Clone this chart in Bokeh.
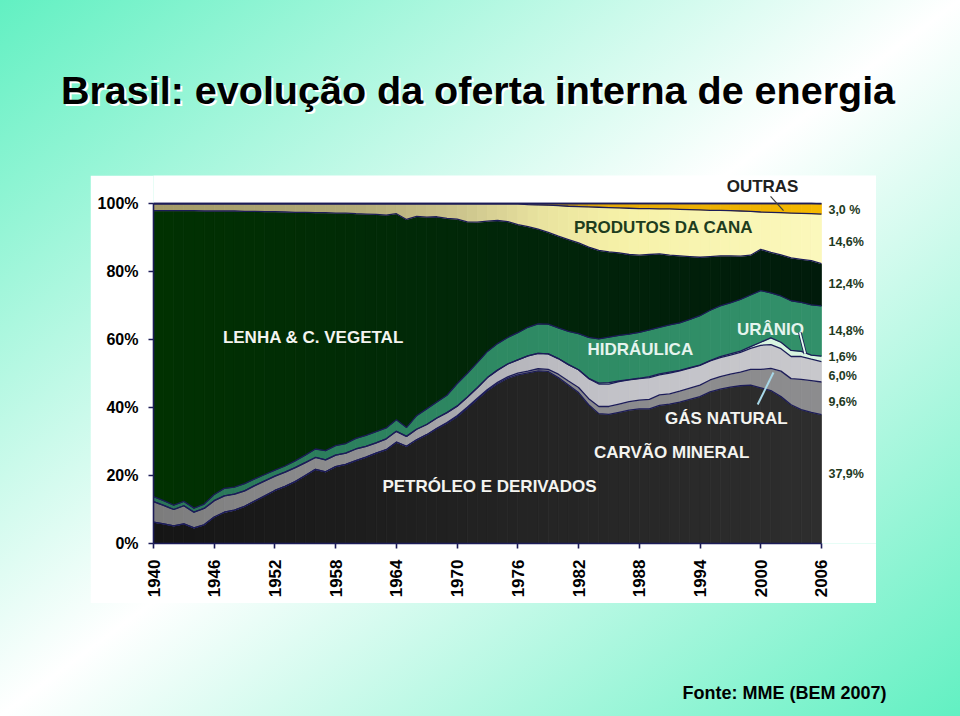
import math
import numpy as np
from bokeh.plotting import figure
from bokeh.models import Range1d, LinearAxis, FixedTicker, ColumnDataSource, Spacer
from bokeh.layouts import column, row
from bokeh.core.properties import value
from bokeh.embed import file_html
from bokeh.resources import INLINE

# ---------------- data (% of domestic energy supply) ----------------
years = list(range(1940, 2007))

petroleo = [6.3, 5.8, 5.2, 5.8, 4.6, 5.5, 7.8, 9.2, 9.8, 10.9,
            12.5, 14.0, 15.6, 16.8, 18.2, 20.0, 21.8, 21.1, 22.6, 23.3,
            24.4, 25.4, 26.6, 27.6, 29.8, 28.6, 30.5, 32.0, 33.8, 35.4,
            37.3, 39.8, 42.4, 45.0, 47.0, 48.6, 49.6, 50.2, 50.8, 50.6,
            48.8, 46.6, 44.4, 40.8, 38.2, 38.0, 38.6, 39.2, 39.6, 39.6,
            40.6, 41.0, 41.6, 42.4, 43.2, 44.6, 45.4, 46.0, 46.4, 46.6,
            45.8, 45.0, 43.2, 40.8, 39.4, 38.6, 37.9]
gas_natural = [0.0, 0.0, 0.0, 0.0, 0.0, 0.0, 0.0, 0.0, 0.0, 0.0,
               0.0, 0.0, 0.0, 0.0, 0.0, 0.0, 0.0, 0.0, 0.0, 0.0,
               0.0, 0.0, 0.0, 0.0, 0.0, 0.0, 0.0, 0.0, 0.1, 0.2,
               0.3, 0.3, 0.3, 0.3, 0.4, 0.4, 0.5, 0.5, 0.6, 0.6,
               1.0, 1.2, 1.5, 1.8, 2.1, 2.3, 2.4, 2.5, 2.6, 2.8,
               3.1, 3.0, 3.2, 3.3, 3.4, 3.5, 3.7, 3.8, 4.0, 4.6,
               5.4, 6.5, 7.5, 7.7, 8.9, 9.3, 9.6]
carvao = [6.0, 5.4, 4.8, 5.3, 4.6, 4.8, 4.8, 4.8, 4.7, 4.6,
          4.5, 4.4, 4.2, 4.2, 4.1, 3.8, 3.5, 3.5, 3.4, 3.3,
          3.4, 3.2, 3.0, 3.2, 3.2, 2.9, 3.1, 3.0, 3.0, 2.9,
          2.8, 2.9, 3.1, 3.5, 3.6, 3.8, 3.9, 4.5, 4.5, 4.6,
          4.6, 4.8, 5.2, 5.9, 6.6, 6.6, 6.6, 6.4, 6.3, 6.4,
          5.9, 6.1, 6.0, 5.9, 5.8, 5.6, 5.6, 5.6, 5.8, 6.2,
          7.1, 7.0, 6.6, 6.5, 6.7, 6.3, 6.0]
uranio = [0.0, 0.0, 0.0, 0.0, 0.0, 0.0, 0.0, 0.0, 0.0, 0.0,
          0.0, 0.0, 0.0, 0.0, 0.0, 0.0, 0.0, 0.0, 0.0, 0.0,
          0.0, 0.0, 0.0, 0.0, 0.0, 0.0, 0.0, 0.0, 0.0, 0.0,
          0.0, 0.0, 0.0, 0.0, 0.0, 0.0, 0.0, 0.0, 0.0, 0.0,
          0.0, 0.0, 0.0, 0.1, 0.3, 0.4, 0.2, 0.1, 0.1, 0.3,
          0.3, 0.3, 0.1, 0.1, 0.1, 0.1, 0.3, 0.4, 0.4, 0.5,
          0.9, 2.0, 1.9, 1.8, 1.5, 1.2, 1.6]
hidraulica = [1.5, 1.4, 1.3, 1.3, 1.2, 1.3, 1.8, 2.2, 2.1, 2.1,
              2.0, 1.9, 1.8, 1.8, 2.0, 2.2, 2.5, 2.7, 2.8, 2.8,
              3.1, 3.2, 3.3, 3.2, 3.4, 2.6, 4.0, 4.6, 4.7, 5.1,
              6.6, 7.0, 7.4, 7.7, 7.8, 7.8, 8.0, 8.4, 8.7, 8.7,
              9.0, 9.8, 10.6, 12.0, 13.0, 13.4, 13.4, 13.4, 13.5, 13.7,
              13.7, 13.9, 14.0, 14.2, 14.5, 14.8, 14.9, 15.0, 15.2, 15.2,
              15.2, 13.2, 13.6, 14.6, 14.4, 14.8, 14.8]
lenha = [84.1, 85.3, 86.6, 85.5, 87.5, 86.2, 83.4, 81.6, 81.2, 80.1,
         78.7, 77.3, 76.0, 74.7, 73.1, 71.4, 69.5, 70.0, 68.4, 67.8,
         66.1, 65.1, 63.9, 62.6, 60.6, 61.2, 58.6, 56.4, 54.5, 52.0,
         48.4, 44.6, 41.3, 38.3, 36.2, 34.1, 31.8, 29.6, 27.9, 27.0,
         27.0, 27.0, 26.7, 26.6, 26.0, 25.1, 24.3, 23.4, 22.7, 22.2,
         21.6, 20.5, 19.7, 18.5, 17.2, 15.8, 14.7, 13.8, 12.7, 11.7,
         12.1, 11.9, 12.1, 12.6, 12.7, 13.0, 12.4]
cana = [2.0, 2.0, 2.0, 2.0, 2.0, 2.1, 2.1, 2.1, 2.1, 2.2,
        2.2, 2.3, 2.3, 2.4, 2.5, 2.5, 2.6, 2.6, 2.7, 2.7,
        2.9, 3.0, 3.1, 3.3, 2.9, 4.6, 3.7, 3.9, 3.8, 4.3,
        4.5, 5.3, 5.4, 5.1, 4.9, 5.2, 6.1, 6.5, 7.1, 8.0,
        9.0, 9.8, 10.7, 11.8, 12.7, 13.0, 13.2, 13.6, 13.7, 13.5,
        13.2, 13.6, 13.7, 13.8, 13.9, 13.6, 13.4, 13.3, 13.3, 12.9,
        11.0, 11.8, 12.4, 13.2, 13.5, 13.8, 14.6]
outras = [0.1, 0.1, 0.1, 0.1, 0.1, 0.1, 0.1, 0.1, 0.1, 0.1,
          0.1, 0.1, 0.1, 0.1, 0.1, 0.1, 0.1, 0.1, 0.1, 0.1,
          0.1, 0.1, 0.1, 0.1, 0.1, 0.1, 0.1, 0.1, 0.1, 0.1,
          0.1, 0.1, 0.1, 0.1, 0.1, 0.1, 0.1, 0.3, 0.4, 0.5,
          0.6, 0.8, 0.9, 1.0, 1.1, 1.2, 1.3, 1.4, 1.5, 1.5,
          1.6, 1.6, 1.7, 1.8, 1.9, 2.0, 2.0, 2.1, 2.2, 2.3,
          2.5, 2.6, 2.7, 2.8, 2.9, 3.0, 3.0]

year_ticks = [1940, 1946, 1952, 1958, 1964, 1970, 1976, 1982, 1988, 1994, 2000, 2006]
pct_ticks = [0, 20, 40, 60, 80, 100]
pct_tick_labels = ["0%", "20%", "40%", "60%", "80%", "100%"]

source_names = ["PETRÓLEO E DERIVADOS", "GÁS NATURAL", "CARVÃO MINERAL", "URÂNIO",
                "HIDRÁULICA", "LENHA & C. VEGETAL", "PRODUTOS DA CANA", "OUTRAS"]
share_2006 = ["37,9%", "9,6%", "6,0%", "1,6%", "14,8%", "12,4%", "14,6%", "3,0 %"]

TITLE = "Brasil: evolução da oferta interna de energia"
FOOTER = "Fonte: MME (BEM 2007)"

# ---------------- styles ----------------
FONT = "Liberation Sans"
NAVY = "#1c1c58"
layer_stops = [
    [(1940, "#151515"), (1975, "#232323"), (2006, "#2e2e2e")],            # petróleo
    [(1940, "#8a8a8e"), (2006, "#8c8c8e")],                                # gás natural
    [(1940, "#7c7c7c"), (1960, "#8e8e90"), (1973, "#b2b2b8"), (1985, "#c2c2c8"), (2006, "#c8c8cc")],  # carvão
    [(1940, "#d8f4e0"), (2006, "#d8f4e0")],                                # urânio
    [(1940, "#2a7458"), (1975, "#2e8a63"), (2006, "#32906a")],             # hidráulica
    [(1940, "#013101"), (1975, "#012609"), (2006, "#011b0b")],             # lenha
    [(1940, "#a39a68"), (1960, "#b2aa78"), (1970, "#cbc38c"), (1978, "#e8e29e"),
     (1986, "#f6f1a8"), (2006, "#fbf8bc")],                                # cana
    [(1940, "#34344c"), (1976, "#5c5640"), (1984, "#e4a806"), (2006, "#f5b800")],  # outras
]


def hex2rgb(h):
    return tuple(int(h[i:i + 2], 16) for i in (1, 3, 5))


def color_at(stops, x):
    if x <= stops[0][0]:
        return stops[0][1]
    for (x0, c0), (x1, c1) in zip(stops[:-1], stops[1:]):
        if x0 <= x <= x1:
            t = (x - x0) / (x1 - x0)
            a, b = hex2rgb(c0), hex2rgb(c1)
            return "#%02x%02x%02x" % tuple(int(round(a[k] + (b[k] - a[k]) * t)) for k in range(3))
    return stops[-1][1]


# ---------------- chart ----------------
p = figure(width=786, height=428, x_range=Range1d(1940, 2011.44), y_range=Range1d(0, 108.24),
           toolbar_location=None, output_backend="svg", x_axis_type=None, y_axis_type=None,
           min_border_left=63, min_border_right=0, min_border_top=0, min_border_bottom=60,
           border_fill_color="white", background_fill_color="white", outline_line_color=None)

series = [petroleo, gas_natural, carvao, uranio, hidraulica, lenha, cana, outras]
n = len(years)
bottom = np.zeros(n)
tops = []
for vals, stops in zip(series, layer_stops):
    top = bottom + np.array(vals, dtype=float)
    xs, ys, cols = [], [], []
    for i in range(n - 1):
        xs.append([years[i], years[i + 1], years[i + 1], years[i]])
        ys.append([bottom[i], bottom[i + 1], top[i + 1], top[i]])
        cols.append(color_at(stops, (years[i] + years[i + 1]) / 2))
    p.patches(xs, ys, fill_color=cols, line_color=cols, line_width=0.8)
    tops.append(top)
    bottom = top

for top in tops:
    p.line(years, list(top), line_color=NAVY, line_width=1.3)
p.line([1940, 2006], [100, 100], line_color=NAVY, line_width=1.6)

# axes
yaxis = LinearAxis(ticker=FixedTicker(ticks=pct_ticks), bounds=(0, 100),
                   major_label_overrides={t: s for t, s in zip(pct_ticks, pct_tick_labels)})
xaxis = LinearAxis(ticker=FixedTicker(ticks=year_ticks), bounds=(1940, 2006),
                   major_label_orientation=math.pi / 2)
for ax in (yaxis, xaxis):
    ax.axis_line_color = NAVY
    ax.axis_line_width = 1.6
    ax.major_tick_line_color = NAVY
    ax.major_tick_line_width = 1.6
    ax.major_tick_in = 0
    ax.major_tick_out = 5
    ax.minor_tick_out = 0
    ax.minor_tick_in = 0
    ax.major_label_text_font = FONT
    ax.major_label_text_font_style = "bold"
    ax.major_label_text_color = "black"
yaxis.major_label_text_font_size = "16px"
yaxis.major_label_standoff = 10
xaxis.major_label_text_font_size = "17px"
xaxis.major_label_standoff = 11
p.add_layout(yaxis, "left")
p.add_layout(xaxis, "below")

# in-chart labels (annotation positions, data units)
lab = ColumnDataSource(dict(
    x=[1973.2, 1996.6, 1991.2, 2000.97, 1988.1, 1955.8, 1990.4, 2000.18],
    y=[16.8, 36.8, 26.8, 62.9, 57.1, 60.6, 92.9, 105.0],
    text=source_names,
    color=["#f4f4f0", "#f4f4f0", "#f4f4f0", "#e6f4ee", "#e6f4ee", "#f4f4f0", "#1e3d1e", "#202020"],
))
p.text(x="x", y="y", text="text", source=lab, text_color="color", text_font=value(FONT),
       text_font_style="bold", text_font_size="17px", text_align="center", text_baseline="middle")

# 2006 shares on the right
share_y = [20.3, 41.5, 49.4, 55.0, 62.6, 76.2, 88.8, 98.2]
p.text(x=[2006] * len(share_2006), y=share_y, text=share_2006, x_offset=7,
       text_color="#1e3a1e", text_font=value(FONT), text_font_style="bold",
       text_font_size="12.5px", text_align="left", text_baseline="middle")

# leader lines
p.segment(x0=[2000.97], y0=[102.1], x1=[2002.25], y1=[97.9], line_color="#404040", line_width=1.2)
p.segment(x0=[2003.86], y0=[62.1], x1=[2004.4], y1=[55.8], line_color=NAVY, line_width=3.5)
p.segment(x0=[2003.86], y0=[62.1], x1=[2004.4], y1=[55.8], line_color="#e8fff0", line_width=1.8)
p.segment(x0=[2001.26], y0=[50.3], x1=[1999.7], y1=[40.9], line_color="#a8d8e8", line_width=2)

# ---------------- title & footer ----------------
def blank(h):
    f = figure(width=960, height=h, x_range=Range1d(0, 960), y_range=Range1d(0, h),
               toolbar_location=None, output_backend="svg", x_axis_type=None, y_axis_type=None,
               min_border=0, border_fill_color=None, background_fill_color=None,
               outline_line_color=None)
    return f


tfig = blank(175)
tfig.text(x=[479.5], y=[84], text=[TITLE], text_color="white", text_font=value(FONT),
          text_font_style="bold", text_font_size="39.5px", text_align="center", text_baseline="middle")
tfig.text(x=[477.5], y=[86], text=[TITLE], text_color="black", text_font=value(FONT),
          text_font_style="bold", text_font_size="39.5px", text_align="center", text_baseline="middle")

ffig = blank(113)
ffig.text(x=[886], y=[24], text=[FOOTER], text_color="black", text_font=value(FONT),
          text_font_style="bold", text_font_size="18px", text_align="right", text_baseline="middle")

layout = column(
    tfig,
    row(Spacer(width=90, height=428), p, Spacer(width=84, height=428)),
    ffig,
    styles={"background": "linear-gradient(to bottom right, #62f0c2 0%, #ffffff 50%, #62f0c2 100%)"},
)

open("out.html", "w").write(file_html(layout, INLINE))
